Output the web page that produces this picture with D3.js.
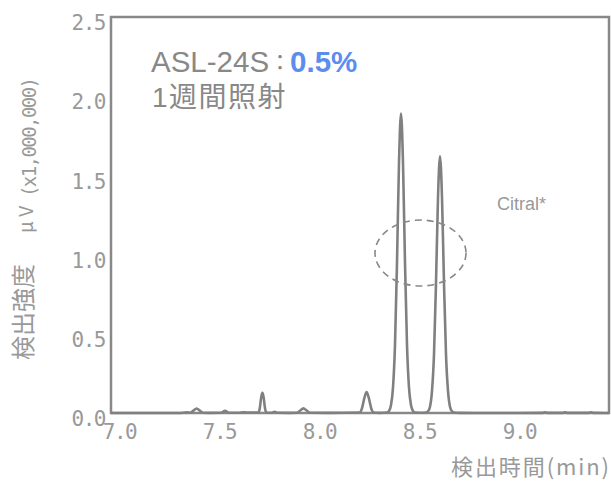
<!DOCTYPE html>
<html>
<head>
<meta charset="utf-8">
<script src="https://cdn.jsdelivr.net/npm/d3@7"></script>
<style>
  body { margin: 0; background: #fff; }
</style>
</head>
<body>
<svg id="chart" width="611" height="482"></svg>
<script>
// chromatogram trace, [time (min), intensity (x1,000,000 uV)]
const trace = [
  [6.96, 0], [7.30, 0], [7.34, 0.004],
  [7.355, 0.002], [7.372, 0.015], [7.388, 0.028], [7.404, 0.015], [7.42, 0.002],
  [7.45, 0.001], [7.51, 0.002], [7.53, 0.014], [7.55, 0.002],
  [7.60, 0.002], [7.62, 0.005], [7.64, 0.003],
  [7.697, 0.003], [7.704, 0.03], [7.711, 0.10], [7.717, 0.127], [7.723, 0.10], [7.730, 0.03], [7.737, 0.003],
  [7.765, 0.002], [7.778, 0.008], [7.79, 0.002], [7.85, 0.001],
  [7.89, 0.002], [7.906, 0.016], [7.922, 0.029], [7.938, 0.016], [7.955, 0.002],
  [8.05, 0.001],
  [8.203, 0.003], [8.215, 0.03], [8.227, 0.095], [8.238, 0.133], [8.249, 0.095], [8.261, 0.03], [8.273, 0.003],
  [8.30, 0.001],
  [8.34, 0.003], [8.35, 0.012], [8.36, 0.05], [8.37, 0.16], [8.38, 0.43], [8.39, 0.95], [8.40, 1.58],
  [8.41, 1.89],
  [8.42, 1.58], [8.43, 0.95], [8.44, 0.43], [8.45, 0.16], [8.46, 0.05], [8.47, 0.012], [8.48, 0.003],
  [8.50, 0.002], [8.52, 0.002],
  [8.535, 0.003], [8.545, 0.01], [8.555, 0.04], [8.565, 0.14], [8.575, 0.37], [8.585, 0.82], [8.595, 1.36],
  [8.605, 1.62],
  [8.615, 1.36], [8.625, 0.82], [8.635, 0.37], [8.645, 0.14], [8.655, 0.04], [8.665, 0.01], [8.675, 0.003],
  [8.70, 0.001], [8.90, 0],
  [9.12, 0.001], [9.13, 0.005], [9.14, 0.001],
  [9.22, 0.001], [9.23, 0.005], [9.24, 0.001],
  [9.35, 0.001], [9.36, 0.005], [9.37, 0.001], [9.45, 0]
];

const xTicks = [7.0, 7.5, 8.0, 8.5, 9.0];
const yTicks = [0.0, 0.5, 1.0, 1.5, 2.0, 2.5];
const xDomain = [6.96, 9.45];
const yDomain = [0, 2.5];

// dashed ellipse around the citral peaks: [center time, center value, half width (min), half height]
const citralMark = [8.5075, 1.01, 0.2275, 0.208];

const margin = {top: 17, right: 2, bottom: 69, left: 111};
const width = 611, height = 482;
const boxW = width - margin.left - margin.right;
const boxH = height - margin.top - margin.bottom;

const gray = "#888";
const labelGray = "#999";
const monoFont = "'DejaVu Sans Mono', 'Liberation Mono', monospace";
const cjkFont = "'Noto Sans CJK JP', 'Noto Sans', sans-serif";
const sansFont = "'Liberation Sans', Arial, sans-serif";

const svg = d3.select("#chart");
const g = svg.append("g")
    .attr("transform", "translate(" + margin.left + "," + margin.top + ")");

const x = d3.scaleLinear().domain(xDomain).range([0, boxW]);
const y = d3.scaleLinear().domain(yDomain).range([boxH, 0]);

// frame
g.append("rect")
    .attr("x", 0).attr("y", 0)
    .attr("width", boxW).attr("height", boxH)
    .attr("fill", "none")
    .attr("stroke", gray)
    .attr("stroke-width", 2.5);

// axes (labels only, the frame draws the lines)
const xAxis = g.append("g")
    .attr("transform", "translate(0," + boxH + ")")
    .call(d3.axisBottom(x).tickValues(xTicks).tickFormat(d3.format(".1f")).tickSize(0).tickPadding(11));
const yAxis = g.append("g")
    .call(d3.axisLeft(y).tickValues(yTicks).tickFormat(d3.format(".1f")).tickSize(0).tickPadding(6));

[xAxis, yAxis].forEach(a => {
    a.select(".domain").remove();
    a.selectAll("text")
        .attr("fill", labelGray)
        .attr("font-family", monoFont)
        .attr("font-size", 21)
        .attr("letter-spacing", -1.5);
});
yAxis.selectAll("text").attr("y", 6);

// trace
const line = d3.line()
    .x(d => x(d[0]))
    .y(d => y(d[1]))
    .curve(d3.curveMonotoneX);

g.append("path")
    .datum(trace)
    .attr("fill", "none")
    .attr("stroke", "#808080")
    .attr("stroke-width", 2.6)
    .attr("stroke-linejoin", "round")
    .attr("d", line);

// citral annotation
g.append("ellipse")
    .attr("cx", x(citralMark[0]))
    .attr("cy", y(citralMark[1]))
    .attr("rx", x(citralMark[0] + citralMark[2]) - x(citralMark[0]))
    .attr("ry", y(0) - y(citralMark[3]))
    .attr("fill", "none")
    .attr("stroke", gray)
    .attr("stroke-width", 1.6)
    .attr("stroke-dasharray", "7,5");

svg.append("text")
    .attr("x", 497).attr("y", 210)
    .attr("font-family", sansFont)
    .attr("font-size", 18)
    .attr("fill", labelGray)
    .text("Citral*");

// sample title
const title = svg.append("text")
    .attr("x", 151).attr("y", 72)
    .attr("font-family", sansFont)
    .attr("font-size", 29.5)
    .attr("fill", gray);
title.append("tspan").text("ASL-24S");
title.append("tspan")
    .attr("font-family", cjkFont)
    .attr("font-size", 22)
    .attr("dy", -2)
    .text("：");
title.append("tspan")
    .attr("dy", 2)
    .attr("dx", -1)
    .attr("font-weight", "bold")
    .attr("fill", "#5b8def")
    .text("0.5%");

svg.append("text")
    .attr("x", 152).attr("y", 107)
    .attr("font-family", "'Liberation Sans', 'Noto Sans CJK JP', sans-serif")
    .attr("font-size", 28)
    .attr("letter-spacing", 1.5)
    .attr("fill", gray)
    .text("1週間照射");

// y axis title
svg.append("text")
    .attr("transform", "translate(32,360) rotate(-90)")
    .attr("font-family", cjkFont)
    .attr("font-size", 24)
    .attr("fill", labelGray)
    .text("検出強度");
svg.append("text")
    .attr("transform", "translate(33,233) rotate(-90)")
    .attr("font-family", cjkFont)
    .attr("font-size", 19)
    .attr("fill", labelGray)
    .text("μ V");
svg.append("text")
    .attr("transform", "translate(36,197) rotate(-90)")
    .attr("font-family", monoFont)
    .attr("font-size", 19)
    .attr("textLength", 120)
    .attr("fill", labelGray)
    .text("(x1,000,000)");

// x axis title
svg.append("text")
    .attr("x", 609).attr("y", 475)
    .attr("text-anchor", "end")
    .attr("font-family", cjkFont)
    .attr("font-size", 22)
    .attr("textLength", 158)
    .attr("fill", labelGray)
    .text("検出時間(min)");
</script>
</body>
</html>
